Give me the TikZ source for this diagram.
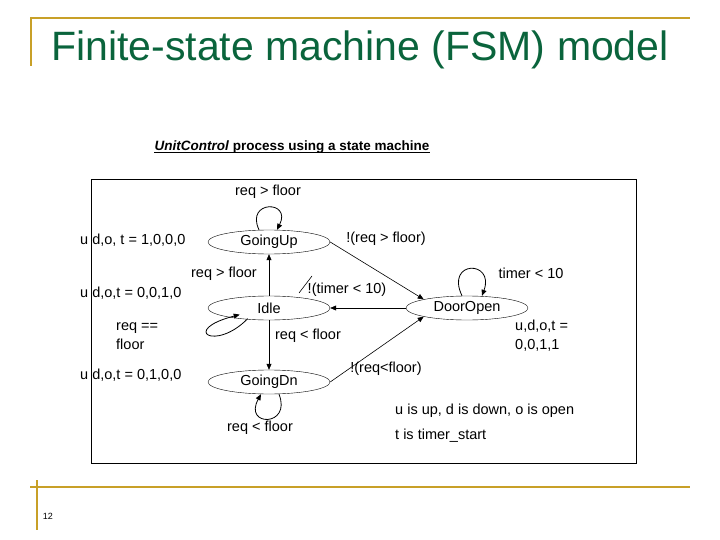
\documentclass[tikz,border=0pt]{standalone}
\usepackage{fontspec}
\setmainfont{Liberation Sans}
\usetikzlibrary{positioning}
\usetikzlibrary{calc}
\usetikzlibrary{arrows.meta}
\usetikzlibrary{shapes.geometric}

\begin{document}
\begin{tikzpicture}[
        x=1pt, y=-1pt,
        state/.style={ellipse, draw, thin, minimum width=122pt, minimum height=24pt, inner sep=0pt, font=\fontsize{14.5}{17}\selectfont},
        lbl/.style={inner sep=0pt, font=\fontsize{14.5}{19}\selectfont},
        edge/.style={semithick, -{Triangle[length=6pt,width=5pt]}},
    ]
        % Colour palette
        \definecolor{titlegreen}{RGB}{10,100,60}
        \definecolor{rulegold}{RGB}{200,160,40}
        \useasboundingbox (0,0) rectangle (720,540);
        % Slide frame
        \draw[rulegold, line width=2.5pt] (30,18) -- (690,18);
        \draw[rulegold, line width=2.5pt] (31,17) -- (31,66);
        \draw[rulegold, line width=1.2pt] (30,487) -- (690,487);
        \draw[rulegold, line width=1.2pt] (37,480) -- (37,530);
        \node[inner sep=0pt, text=titlegreen, font=\fontsize{41}{44}\selectfont] (title) at (360,50) {Finite-state machine (FSM) model};
        \node[inner sep=0pt, font=\fontsize{9}{11}\selectfont] (page) at (48,516) {12};
        \node[inner sep=0pt, font=\bfseries\fontsize{13.5}{15}\selectfont] (sub) at (292,147) {\textit{UnitControl} process using a state machine};
        \draw[thin] (sub.south west) ++(0,-1) -- ($(sub.south east)+(0,-1)$);
        \draw[thin] (91,179) rectangle (636,463);

        % States
        \node[state] (up) at (269,242) {GoingUp};
        \node[state] (idle) at (269,308) {Idle};
        \node[state] (open) at (467,308) {DoorOpen};
        \node[state] (dn) at (269,382) {GoingDn};

        % Transitions
        \draw[edge] (idle) -- (up);
        \draw[edge] (up.east) -- (open.north west);
        \draw[edge] (open) -- (idle);
        \draw[edge] (idle) -- (dn);
        \draw[edge] (dn.east) -- (open.south west);
        \draw[edge, thick] (up.north) ++(-10,0) coordinate (u1) .. controls (245,200) and (292,200) .. ($(up.north)+(8,0)$);
        \draw[edge, thick] (open.north) ++(-5,0) coordinate (o1) .. controls (445,260) and (495,260) .. ($(open.north)+(15,0)$);
        \draw[edge, thick] (dn.south) ++(10,0) coordinate (d1) .. controls (292,427) and (243,427) .. ($(dn.south)+(-8,0)$);
        \draw[edge, thick] (idle.south west) ++(22,2) coordinate (i1) .. controls (215,352) and (180,330) .. ($(idle.south west)+(14,-2)$);
        \draw[semithick] (312,276) -- (299,293);

        % Labels
        \node[lbl] (l1) at (268,192) {req > floor};
        \node[lbl, anchor=west] (l2) at (80,240) {u d,o, t = 1,0,0,0};
        \node[lbl, anchor=east] (l3) at (257,274) {req > floor};
        \node[lbl, anchor=west] (l4) at (80,293) {u d,o,t = 0,0,1,0};
        \node[lbl, anchor=west, align=left] (l5) at (116,336) {req ==\\floor};
        \node[lbl, anchor=west] (l6) at (80,375) {u d,o,t = 0,1,0,0};
        \node[lbl] (l7) at (260,428) {req < floor};
        \node[lbl] (l8) at (386,239) {!(req > floor)};
        \node[lbl] (l9) at (347,290) {!(timer < 10)};
        \node[lbl] (l10) at (531,273) {timer < 10};
        \node[lbl] (l11) at (308,336) {req < floor};
        \node[lbl, anchor=west, align=left] (l12) at (515,336) {u,d,o,t =\\0,0,1,1};
        \node[lbl] (l13) at (386,369) {!(req<floor)};
        \node[lbl, anchor=west] (l14) at (395,411) {u is up, d is down, o is open};
        \node[lbl, anchor=west] (l15) at (395,436) {t is timer\_start};
    \end{tikzpicture}
\end{document}
